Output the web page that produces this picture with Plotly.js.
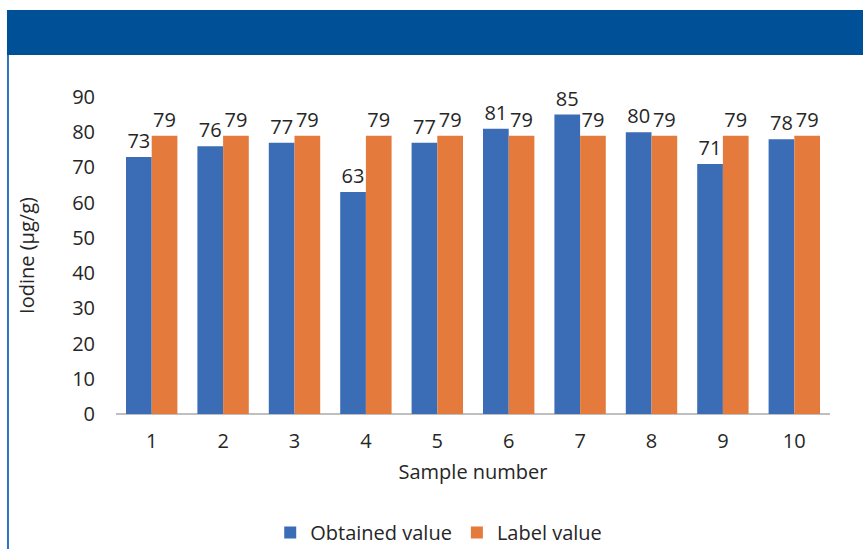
<!DOCTYPE html>
<html>
<head>
<meta charset="utf-8">
<script src="https://cdn.plot.ly/plotly-3.0.1.min.js"></script>
<style>html,body{margin:0;padding:0;background:#fff;}#chart{width:863px;height:549px;}</style>
</head>
<body>
<div id="chart"></div>
<script>
const samples = ['1','2','3','4','5','6','7','8','9','10'];
const obtained = [73, 76, 77, 63, 77, 81, 85, 80, 71, 78];
const labelValue = [79, 79, 79, 79, 79, 79, 79, 79, 79, 79];
const yTicks = [0,10,20,30,40,50,60,70,80,90];

const font = 'Open Sans, Noto Sans, sans-serif';
const txtColor = '#262626';
const fs = 20;

const traces = [
  {type:'bar', name:'Obtained value', x:samples, y:obtained, marker:{color:'#3a6db5'},
   text:obtained.map(String), textposition:'outside', cliponaxis:false,
   textfont:{family:font, size:fs, color:txtColor}},
  {type:'bar', name:'Label value', x:samples, y:labelValue, marker:{color:'#e47b3c'},
   text:labelValue.map(String), textposition:'outside', cliponaxis:false,
   textfont:{family:font, size:fs, color:txtColor}}
];

const layout = {
  width:863, height:549,
  margin:{l:116, r:33, t:97, b:135},
  paper_bgcolor:'#fff', plot_bgcolor:'#fff',
  font:{family:font, size:fs, color:txtColor},
  barmode:'group', bargap:0.28, bargroupgap:0,
  showlegend:true,
  legend:{orientation:'h', xref:'paper', x:0.452, xanchor:'center', yref:'container', y:0.03, yanchor:'middle',
          font:{family:font, size:fs, color:txtColor}, itemwidth:30, tracegroupgap:0},
  xaxis:{type:'category', showgrid:false, zeroline:false, showline:false,
         ticks:'outside', ticklen:9, tickcolor:'rgba(0,0,0,0)',
         tickfont:{family:font, size:fs, color:txtColor},
         title:{text:'Sample number', font:{family:font, size:fs, color:txtColor}, standoff:11}},
  yaxis:{range:[0,90], tickvals:yTicks, showgrid:false, zeroline:true, zerolinecolor:'#bfbfbf', zerolinewidth:1.5,
         showline:false, ticks:'outside', ticklen:16, tickcolor:'rgba(0,0,0,0)',
         tickfont:{family:font, size:fs, color:txtColor},
         title:{text:'Iodine (µg/g)', font:{family:font, size:fs, color:txtColor}, standoff:32}},
  shapes:[
    {type:'rect', xref:'paper', yref:'paper', x0:-0.1527, x1:1.05, y0:1.1325, y1:1.2744,
     fillcolor:'#005098', line:{width:0}, layer:'above'},
    {type:'line', xref:'paper', yref:'paper', x0:-0.1513, x1:-0.1513, y0:1.1325, y1:-0.45,
     line:{color:'#2f72c0', width:2}}
  ]
};

Plotly.newPlot('chart', traces, layout, {displayModeBar:false, staticPlot:true});
</script>
</body>
</html>
